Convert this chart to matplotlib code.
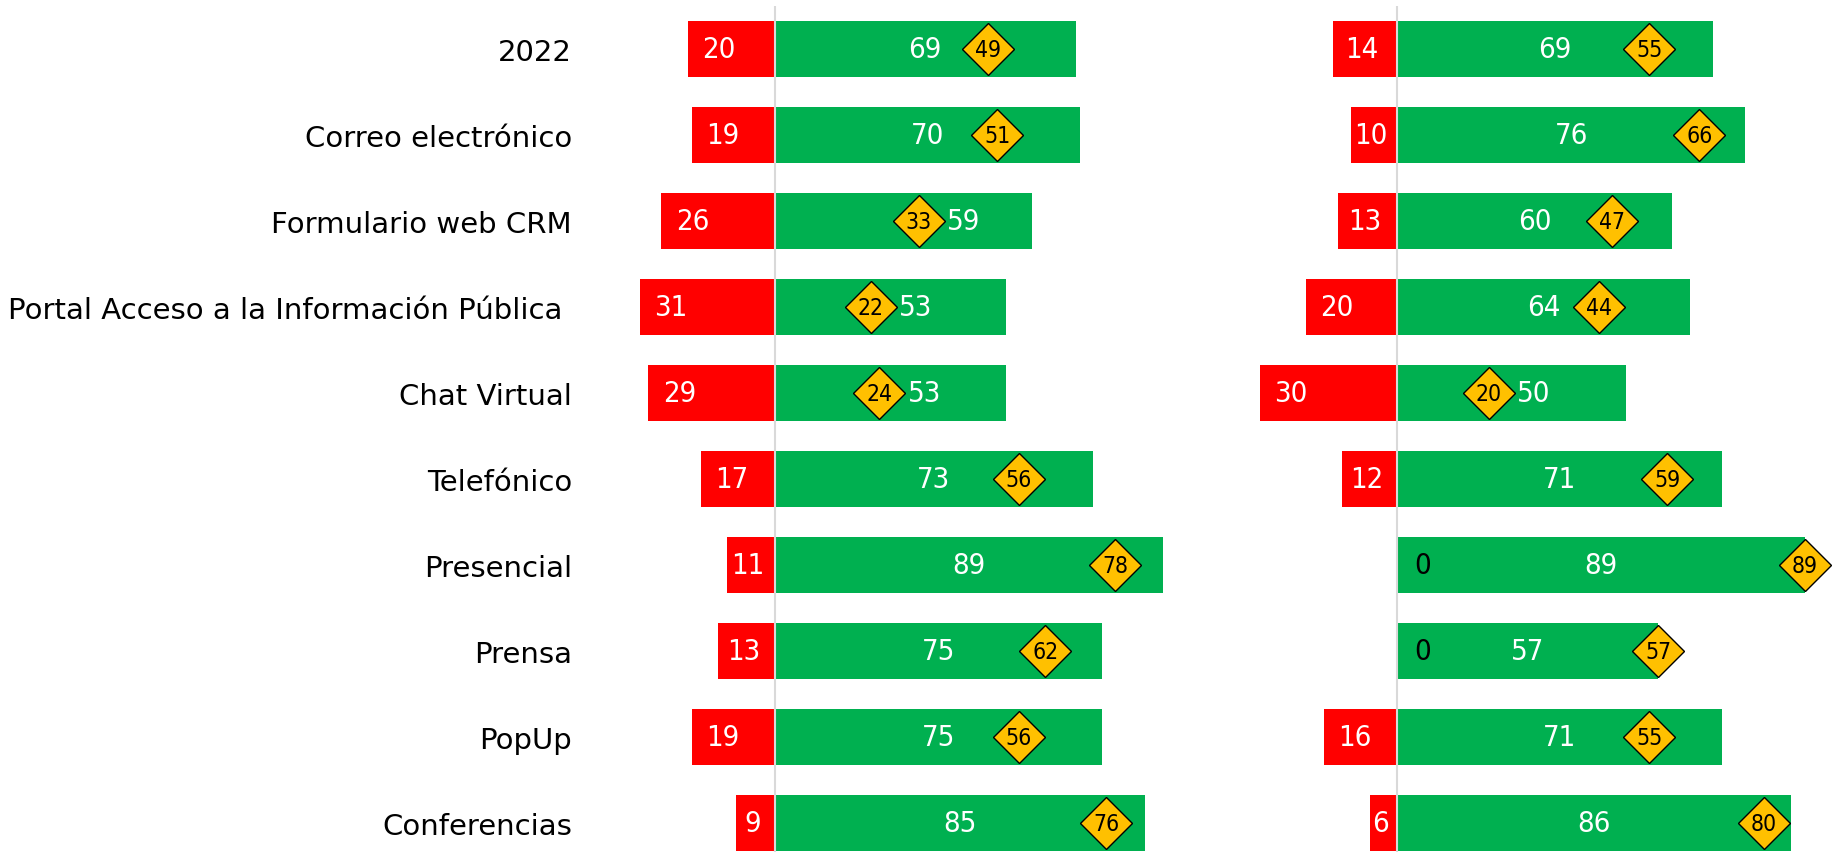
import matplotlib
matplotlib.use("Agg")
from matplotlib import pyplot as plt
import numpy as np

plt.rcParams['font.family'] = ['DejaVu Sans']

categories = ["2022", "Correo electrónico", "Formulario web CRM",
              "Portal Acceso a la Información Pública ", "Chat Virtual",
              "Telefónico", "Presencial", "Prensa", "PopUp", "Conferencias"]

# left panel
neg_a = [20, 19, 26, 31, 29, 17, 11, 13, 19, 9]
pos_a = [69, 70, 59, 53, 53, 73, 89, 75, 75, 85]
net_a = [49, 51, 33, 22, 24, 56, 78, 62, 56, 76]

# right panel
neg_b = [14, 10, 13, 20, 30, 12, 0, 0, 16, 6]
pos_b = [69, 76, 60, 64, 50, 71, 89, 57, 71, 86]
net_b = [55, 66, 47, 44, 20, 59, 89, 57, 55, 80]

RED = "#FF0000"
GREEN = "#00B050"
GOLD = "#FFC000"
PT = 72 / 100  # points per pixel at dpi 100

W, H = 1841, 853
fig = plt.figure(figsize=(W / 100, H / 100), dpi=100)

top = 1 - 7 / H
ax1 = fig.add_axes([590 / W, 0, 640 / W, top])
ax2 = fig.add_axes([1060 / W, 0, 781 / W, top])
ax1.patch.set_visible(False)
ax2.patch.set_visible(False)


def panel(ax, neg, pos, net, xlim):
    y = np.arange(len(categories))
    ax.set_xlim(*xlim)
    ax.set_ylim(9.337, -0.5)
    sc = ax.transData.transform((1, 0))[0] - ax.transData.transform((0, 0))[0]

    ax.barh(y, [-v for v in neg], height=0.65, color=RED, zorder=2)
    ax.barh(y, pos, height=0.65, color=GREEN, zorder=2)
    ax.axvline(0, color="#D9D9D9", lw=1.5, zorder=3)
    ax.plot(net, y, ls="none", marker="D", ms=26.5, mfc=GOLD, mec="black",
            mew=1.0, zorder=4)
    num = dict(fontsize=21, fontstretch="condensed", va="center", zorder=5)
    for i in range(len(categories)):
        # negative label
        if neg[i] == 0:
            ax.annotate("0", xy=(0, i), xytext=(17 * PT, 0),
                        textcoords="offset points", ha="left",
                        color="black", **num)
        else:
            w = neg[i] * sc
            off = min(31, w / 2 - 3)
            ax.annotate(str(neg[i]), xy=(-neg[i], i), xytext=(off * PT, 0),
                        textcoords="offset points", ha="center",
                        color="white", **num)
        # positive label centred, moved past the diamond when they collide
        c = pos[i] / 2
        if abs(c - net[i]) * sc < 45:
            ax.annotate(str(pos[i]), xy=(net[i], i), xytext=(28 * PT, 0),
                        textcoords="offset points", ha="left",
                        color="white", **num)
        else:
            ax.text(c, i, str(pos[i]), ha="center", color="white", **num)
        ax.text(net[i], i, str(net[i]), ha="center", va="center",
                fontsize=16.5, fontstretch="condensed", color="black", zorder=6)
    ax.set_xticks([])
    for s in ax.spines.values():
        s.set_visible(False)


panel(ax1, neg_a, pos_a, net_a, (-42.4, 104.4))
panel(ax2, neg_b, pos_b, net_b, (-73.6, 96.9))

ax1.set_yticks(np.arange(len(categories)))
ax1.set_yticklabels(categories, fontsize=21)
ax1.tick_params(axis="y", length=0, pad=13)
ax2.set_yticks([])

fig.savefig("out.png", dpi=100)
